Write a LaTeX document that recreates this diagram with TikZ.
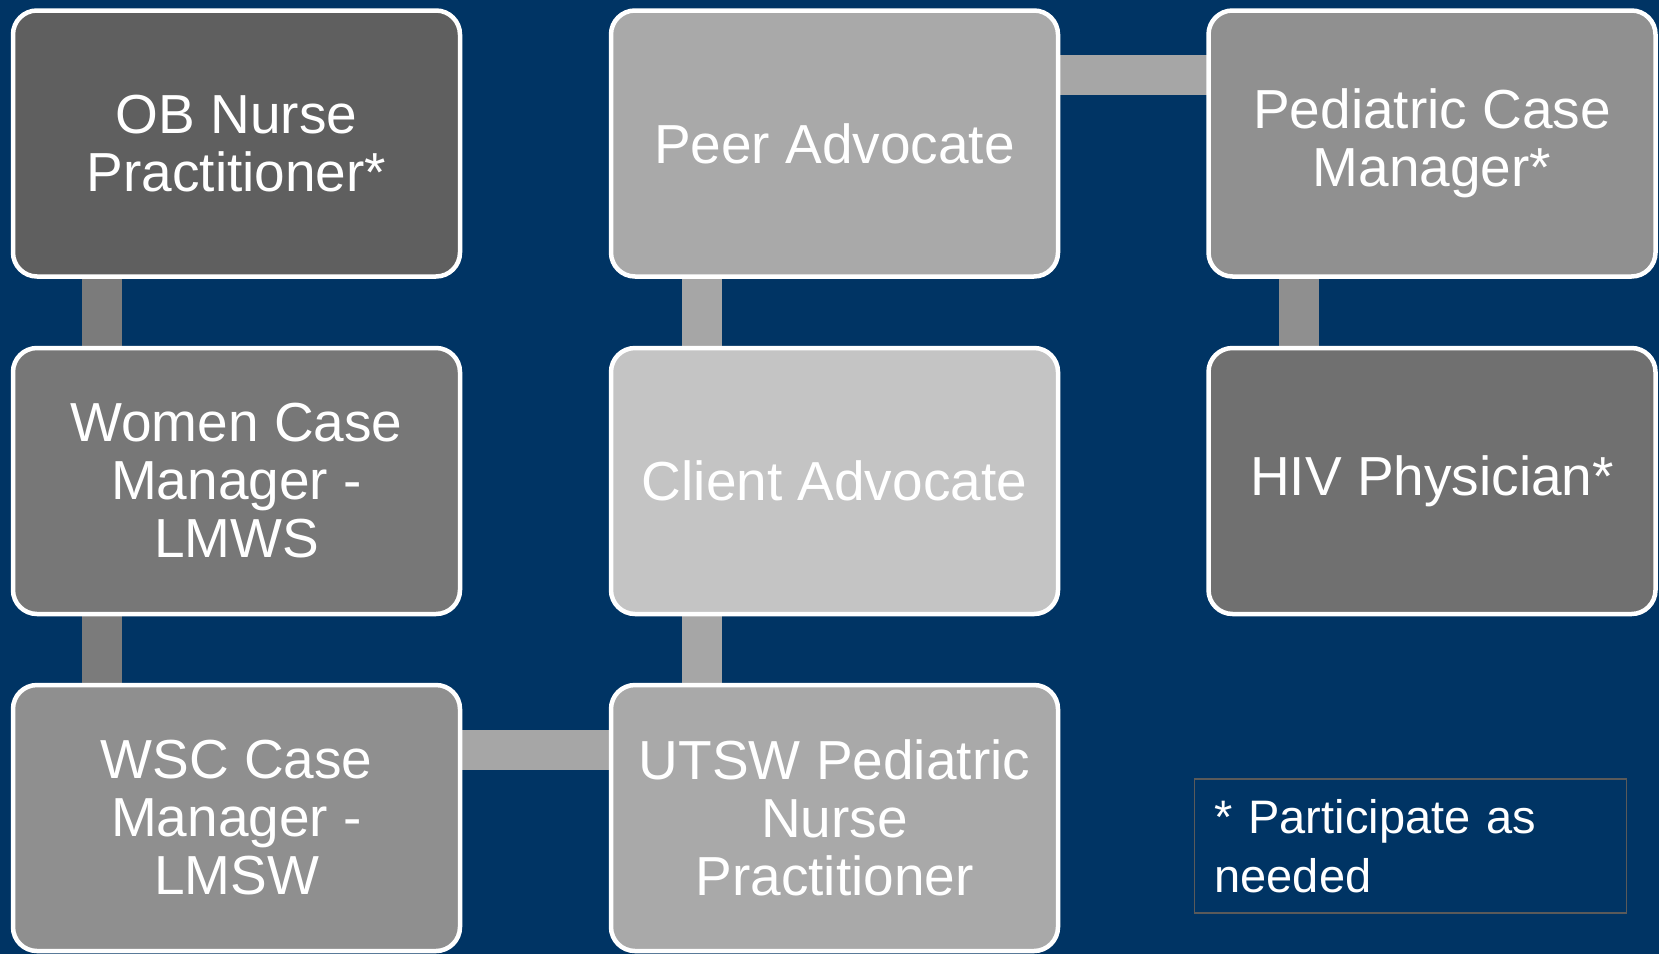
\documentclass[tikz,border=0pt]{standalone}
\usepackage{fontspec}
\setmainfont{Liberation Sans}
\usetikzlibrary{backgrounds}
\definecolor{bg}{HTML}{003464}
\definecolor{cOB}{HTML}{5F5F5F}
\definecolor{cWomen}{HTML}{777777}
\definecolor{cWSC}{HTML}{8F8F8F}
\definecolor{cPeer}{HTML}{A9A9A9}
\definecolor{cClient}{HTML}{C4C4C4}
\definecolor{cUTSW}{HTML}{A9A9A9}
\definecolor{cPed}{HTML}{909090}
\definecolor{cHIV}{HTML}{707070}
\definecolor{lnA}{HTML}{7B7B7B}
\definecolor{lnB}{HTML}{A6A6A6}
\definecolor{lnC}{HTML}{8F8F8F}
\definecolor{legendline}{HTML}{5A5A5A}
\tikzset{
  rolebox/.style={draw=white, line width=4.5pt, rounded corners=24pt,
    minimum width=447pt, minimum height=266pt, text=white, align=center,
    font=\fontsize{55}{58}\selectfont, inner sep=0pt},
  conn/.style={line width=40pt},
  legendbox/.style={draw=legendline, line width=1.5pt, minimum width=432pt,
    minimum height=134pt, text=white, align=left, text width=392pt,
    inner xsep=20pt, inner ysep=0pt, font=\fontsize{47}{59}\selectfont}
}
\begin{document}
\begin{tikzpicture}[x=1pt,y=-1pt]
\useasboundingbox (0,0) rectangle (1659,954);
% nodes
\node[rolebox, fill=cOB] (ob) at (236.5,143.5) {OB Nurse\\Practitioner*};
\node[rolebox, fill=cWomen] (women) at (236.5,481) {Women Case\\Manager -\\LMWS};
\node[rolebox, fill=cWSC] (wsc) at (236.5,818) {WSC Case\\Manager -\\LMSW};
\node[rolebox, fill=cPeer] (peer) at (834.5,143.5) {Peer Advocate};
\node[rolebox, fill=cClient] (client) at (834.5,481) {Client Advocate};
\node[rolebox, fill=cUTSW] (utsw) at (834.5,818) {UTSW Pediatric\\Nurse\\Practitioner};
\node[rolebox, fill=cPed] (ped) at (1432,143.5) {Pediatric Case\\Manager*};
\node[rolebox, fill=cHIV] (hiv) at (1432,481) {HIV Physician*};
\node[legendbox] (legend) at (1410.5,846) {* Participate as\\needed};
% background and connectors behind boxes
\begin{pgfonlayer}{background}
\fill[bg] (0,0) rectangle (1659,954);
\draw[conn, lnA] ([xshift=-134.5pt]ob.center) -- ([xshift=-134.5pt]women.center);
\draw[conn, lnA] ([xshift=-134.5pt]women.center) -- ([xshift=-134.5pt]wsc.center);
\draw[conn, lnB] ([yshift=68pt]wsc.center) -- ([yshift=68pt]utsw.center);
\draw[conn, lnB] ([xshift=-133pt]peer.center) -- ([xshift=-133pt]client.center);
\draw[conn, lnB] ([xshift=-133pt]client.center) -- ([xshift=-133pt]utsw.center);
\draw[conn, lnB] ([yshift=68.5pt]peer.center) -- ([yshift=68.5pt]ped.center);
\draw[conn, lnC] ([xshift=-133pt]ped.center) -- ([xshift=-133pt]hiv.center);
\end{pgfonlayer}
\end{tikzpicture}
\end{document}
